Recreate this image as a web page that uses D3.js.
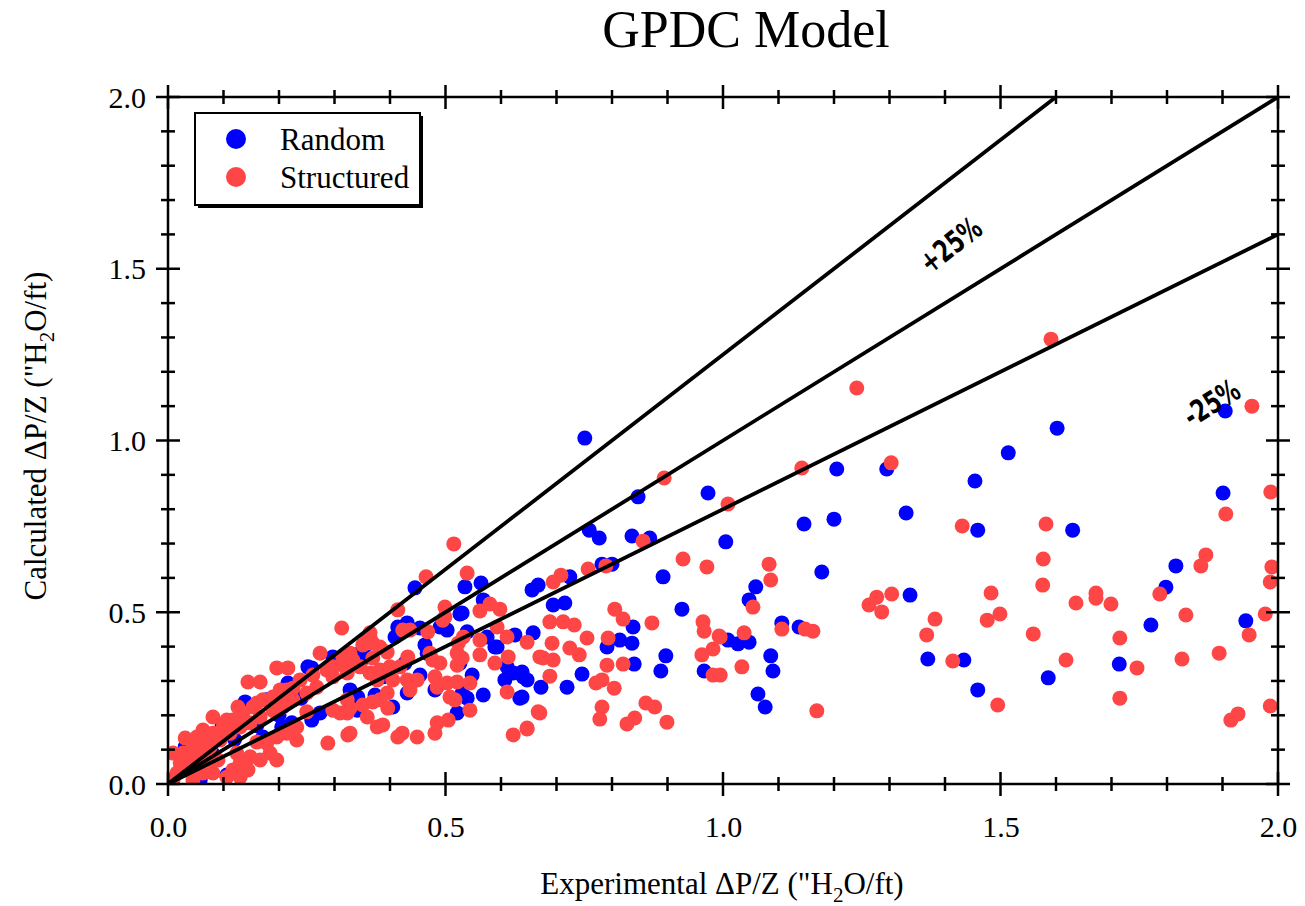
<!DOCTYPE html>
<html>
<head>
<meta charset="utf-8">
<script src="https://cdn.jsdelivr.net/npm/d3@7"></script>
<style>
  html, body { margin: 0; padding: 0; background: #ffffff; }
  svg { display: block; }
</style>
</head>
<body>
<svg id="chart" width="1305" height="906"></svg>
<script>
// ---------------- DATA ----------------
const chartTitle = "GPDC Model";
const seriesNames = ["Random", "Structured"];
const xTickLabels = ["0.0", "0.5", "1.0", "1.5", "2.0"];
const yTickLabels = ["0.0", "0.5", "1.0", "1.5", "2.0"];
const refLineSlopes = [1.25, 1.0, 0.8];
const refLineLabels = ["+25%", "-25%"];

// Random packing (blue): [experimental, calculated]
const randomData = [
  [1.905,1.086],[1.602,1.036],[1.514,0.964],[1.454,0.882],[1.901,0.847],[1.459,0.739],[1.630,0.739],
  [1.816,0.635],[1.798,0.573],[1.942,0.475],[1.771,0.463],[1.714,0.349],[1.434,0.361],[1.586,0.309],[1.459,0.274],
  [1.205,0.917],[1.295,0.917],[1.146,0.757],[1.200,0.771],[1.330,0.789],[1.005,0.705],[1.178,0.617],[1.059,0.574],
  [1.047,0.536],[1.337,0.550],[1.369,0.364],[1.106,0.469],[1.137,0.457],[1.009,0.419],[1.027,0.408],[1.047,0.413],
  [1.086,0.373],[1.090,0.329],[1.063,0.262],[1.076,0.224],
  [0.751,1.007],[0.847,0.836],[0.973,0.847],[0.759,0.739],[0.777,0.716],[0.836,0.722],[0.868,0.716],[0.892,0.603],
  [0.782,0.640],[0.800,0.640],[0.724,0.603],[0.656,0.565],[0.667,0.579],[0.694,0.521],[0.715,0.527],[0.926,0.509],
  [0.838,0.457],[0.814,0.419],[0.836,0.410],[0.791,0.399],[0.658,0.440],[0.638,0.326],[0.647,0.303],[0.672,0.282],
  [0.746,0.320],[0.840,0.349],[0.897,0.373],[0.888,0.329],[0.719,0.282],[0.966,0.329],[0.634,0.250],
  [0.445,0.571],[0.535,0.574],[0.564,0.585],[0.526,0.495],[0.568,0.536],[0.414,0.457],[0.431,0.469],[0.454,0.454],
  [0.490,0.457],[0.503,0.448],[0.409,0.428],[0.539,0.443],[0.575,0.428],[0.625,0.434],[0.589,0.399],[0.611,0.341],
  [0.526,0.352],[0.463,0.405],[0.467,0.381],[0.427,0.352],[0.359,0.370],[0.333,0.361],[0.387,0.312],[0.454,0.317],
  [0.431,0.265],[0.481,0.274],[0.548,0.317],[0.530,0.265],[0.539,0.250],[0.607,0.303],[0.622,0.323],[0.640,0.312],
  [0.638,0.253],[0.568,0.259],[0.521,0.207],[0.373,0.259],[0.405,0.224],[0.328,0.274],[0.342,0.253],[0.341,0.215],
  [0.530,0.498],[0.593,0.399],[0.259,0.338],[0.337,0.376],[0.418,0.454],
  [0.297,0.370],[0.319,0.361],[0.252,0.341],[0.216,0.294],[0.139,0.239],[0.178,0.245],[0.097,0.166],[0.034,0.114],
  [0.274,0.207],[0.259,0.186],[0.130,0.026],[0.031,0.108],[0.223,0.178],[0.205,0.166],[0.171,0.137],[0.106,0.026],
  [0.058,0.012],[0.05,0.06],[0.08,0.09],[0.12,0.13],[0.16,0.17],[0.20,0.20],[0.24,0.25]
];

// Structured packing (red): [experimental, calculated]
const structuredData = [
  [1.591,1.295],[1.953,1.100],[1.987,0.850],[1.906,0.786],[1.431,0.751],[1.582,0.757],[1.577,0.655],[1.870,0.667],
  [1.861,0.635],[1.989,0.632],[1.986,0.588],[1.576,0.579],[1.787,0.553],[1.483,0.556],[1.672,0.556],[1.672,0.541],
  [1.636,0.527],[1.699,0.524],[1.499,0.495],[1.476,0.477],[1.834,0.492],[1.977,0.495],[1.948,0.434],[1.559,0.437],
  [1.715,0.425],[1.894,0.381],[1.827,0.364],[1.618,0.361],[1.746,0.338],[1.414,0.358],[1.495,0.230],[1.715,0.250],
  [1.986,0.227],[1.928,0.204],[1.915,0.186],[1.241,1.153],
  [1.142,0.920],[1.303,0.935],[1.009,0.815],[1.083,0.640],[1.086,0.594],[1.054,0.515],[1.263,0.521],[1.277,0.544],
  [1.304,0.553],[1.286,0.501],[1.382,0.480],[1.367,0.434],[1.106,0.451],[1.148,0.451],[1.162,0.445],[0.995,0.428],
  [1.038,0.440],[1.034,0.341],[1.169,0.213],[0.995,0.317],
  [0.894,0.891],[0.856,0.707],[0.928,0.655],[0.971,0.632],[0.789,0.635],[0.757,0.626],[0.694,0.588],[0.708,0.608],
  [0.805,0.509],[0.820,0.480],[0.872,0.469],[0.688,0.472],[0.712,0.472],[0.732,0.463],[0.755,0.425],[0.793,0.425],
  [0.964,0.472],[0.966,0.445],[0.993,0.431],[0.982,0.393],[0.962,0.376],[0.647,0.413],[0.692,0.410],[0.724,0.396],
  [0.741,0.376],[0.676,0.367],[0.694,0.361],[0.688,0.314],[0.791,0.346],[0.820,0.349],[0.771,0.294],[0.782,0.303],
  [0.804,0.279],[0.982,0.317],[0.670,0.207],[0.782,0.224],[0.778,0.189],[0.861,0.236],[0.877,0.224],[0.841,0.192],
  [0.827,0.175],[0.899,0.180],[0.647,0.160],
  [0.515,0.699],[0.539,0.614],[0.465,0.603],[0.414,0.507],[0.499,0.515],[0.562,0.504],[0.580,0.524],[0.598,0.509],
  [0.313,0.454],[0.436,0.448],[0.468,0.443],[0.495,0.477],[0.364,0.428],[0.369,0.410],[0.351,0.405],[0.532,0.428],
  [0.562,0.419],[0.593,0.457],[0.611,0.428],[0.670,0.370],[0.562,0.376],[0.613,0.370],[0.589,0.352],[0.523,0.410],
  [0.521,0.381],[0.530,0.367],[0.521,0.346],[0.477,0.361],[0.490,0.352],[0.472,0.381],[0.432,0.370],[0.418,0.341],
  [0.400,0.341],[0.382,0.332],[0.395,0.384],[0.369,0.367],[0.328,0.381],[0.315,0.370],[0.346,0.341],[0.364,0.323],
  [0.377,0.303],[0.405,0.303],[0.431,0.303],[0.449,0.303],[0.436,0.274],[0.481,0.312],[0.485,0.282],[0.503,0.294],
  [0.508,0.253],[0.521,0.297],[0.544,0.294],[0.517,0.245],[0.611,0.268],[0.667,0.210],[0.544,0.215],[0.622,0.143],
  [0.647,0.163],[0.505,0.186],[0.485,0.178],[0.481,0.148],[0.449,0.137],[0.422,0.148],[0.414,0.137],[0.328,0.148],
  [0.387,0.172],[0.377,0.166],[0.359,0.195],[0.351,0.230],[0.369,0.239],[0.328,0.221],[0.323,0.245],[0.395,0.265],
  [0.382,0.245],[0.396,0.221],[0.310,0.207],[0.499,0.486],[0.423,0.448],
  [0.274,0.381],[0.315,0.346],[0.196,0.338],[0.216,0.338],[0.261,0.317],[0.286,0.332],[0.144,0.297],[0.166,0.297],
  [0.202,0.274],[0.225,0.279],[0.126,0.224],[0.160,0.236],[0.189,0.224],[0.214,0.245],[0.081,0.195],[0.106,0.186],
  [0.112,0.157],[0.133,0.186],[0.063,0.157],[0.058,0.128],[0.076,0.128],[0.045,0.099],[0.027,0.090],[0.070,0.099],
  [0.022,0.061],[0.040,0.049],[0.016,0.032],[0.058,0.070],[0.009,0.012],[0.297,0.215],[0.323,0.207],[0.250,0.210],
  [0.232,0.166],[0.214,0.148],[0.196,0.137],[0.232,0.128],[0.178,0.119],[0.160,0.122],[0.288,0.119],[0.324,0.143],
  [0.148,0.079],[0.130,0.061],[0.166,0.070],[0.117,0.041],[0.106,0.020],[0.130,0.020],[0.144,0.041],[0.124,0.090],
  [0.090,0.070],[0.081,0.032],[0.184,0.090],[0.196,0.070],[0.063,0.032],[0.045,0.012],[0.076,0.070],[0.000,0.000],
  [0.052,0.137],[0.031,0.134],[0.009,0.090],
  [0.359,0.419],[0.364,0.440],[0.382,0.399],[0.333,0.361],[0.297,0.312],[0.268,0.282],[0.250,0.265],[0.225,0.245],
  [0.207,0.224],[0.189,0.214],[0.166,0.195],[0.148,0.178],[0.130,0.166],[0.112,0.148],[0.094,0.128],[0.076,0.108],
  [0.058,0.090],[0.040,0.070],[0.297,0.341],[0.323,0.323],[0.238,0.303],[0.214,0.274],[0.189,0.253],[0.171,0.245],
  [0.153,0.224],[0.135,0.207],[0.117,0.186],[0.099,0.166],[0.081,0.148],[0.063,0.128],[0.045,0.108],[0.027,0.079]
];

// ---------------- CHART ----------------
const svg = d3.select("#chart");
const plot = { left: 168, right: 1278, top: 97, bottom: 784 };

const x = d3.scaleLinear().domain([0, 2]).range([plot.left, plot.right]);
const y = d3.scaleLinear().domain([0, 2]).range([plot.bottom, plot.top]);

const serif = "'Liberation Serif', 'Times New Roman', serif";
const blue = "#0000ff";
const red = "#ff4646";

// Title
svg.append("text")
  .attr("x", 746).attr("y", 47)
  .attr("text-anchor", "middle")
  .style("font-family", serif).style("font-size", "52px")
  .text(chartTitle);

// Clip for data
svg.append("defs").append("clipPath").attr("id", "clip")
  .append("rect").attr("x", plot.left).attr("y", plot.top)
  .attr("width", plot.right - plot.left).attr("height", plot.bottom - plot.top);

// Points
const pts = svg.append("g").attr("clip-path", "url(#clip)");
pts.selectAll("circle.random").data(randomData).join("circle")
  .attr("class", "random")
  .attr("cx", d => x(d[0])).attr("cy", d => y(d[1])).attr("r", 7.5)
  .attr("fill", blue);
pts.selectAll("circle.structured").data(structuredData).join("circle")
  .attr("class", "structured")
  .attr("cx", d => x(d[0])).attr("cy", d => y(d[1])).attr("r", 7.5)
  .attr("fill", red);

// Reference lines
const lineGen = d3.line().x(d => x(d[0])).y(d => y(d[1]));
refLineSlopes.forEach(s => {
  const xEnd = Math.min(2, 2 / s);
  pts.append("path")
    .attr("d", lineGen([[0, 0], [xEnd, xEnd * s]]))
    .attr("fill", "none").attr("stroke", "#000").attr("stroke-width", 3.8);
});

// Line labels
const annoFont = "'DejaVu Sans Condensed', 'DejaVu Sans', sans-serif";
svg.append("text")
  .attr("transform", `translate(${x(1.412)},${y(1.565)}) rotate(-38) scale(0.85,1.1)`)
  .attr("text-anchor", "middle").attr("dominant-baseline", "middle")
  .style("font-family", annoFont).style("font-weight", "bold").style("font-size", "28px")
  .text(refLineLabels[0]);
svg.append("text")
  .attr("transform", `translate(${x(1.882)},${y(1.105)}) rotate(-32) scale(0.85,1.1)`)
  .attr("text-anchor", "middle").attr("dominant-baseline", "middle")
  .style("font-family", annoFont).style("font-weight", "bold").style("font-size", "28px")
  .text(refLineLabels[1]);

// Axes frame
const axisG = svg.append("g");
axisG.append("rect")
  .attr("x", plot.left).attr("y", plot.top)
  .attr("width", plot.right - plot.left).attr("height", plot.bottom - plot.top)
  .attr("fill", "none").attr("stroke", "#000").attr("stroke-width", 2.5);

const tickVals = d3.range(0, 21).map(i => i / 10);
const isMajor = v => Math.abs(v * 2 - Math.round(v * 2)) < 1e-6;

// Crossing ticks on all four sides
tickVals.forEach(v => {
  const a = isMajor(v) ? 12 : 7;
  [plot.bottom, plot.top].forEach(yy => {
    axisG.append("line")
      .attr("x1", x(v)).attr("x2", x(v)).attr("y1", yy - a).attr("y2", yy + a)
      .attr("stroke", "#000").attr("stroke-width", 2.5);
  });
  [plot.left, plot.right].forEach(xx => {
    axisG.append("line")
      .attr("x1", xx - a).attr("x2", xx + a).attr("y1", y(v)).attr("y2", y(v))
      .attr("stroke", "#000").attr("stroke-width", 2.5);
  });
});

// Tick labels via d3 axes
const majorVals = [0, 0.5, 1.0, 1.5, 2.0];
const xAxis = d3.axisBottom(x).tickValues(majorVals).tickSize(0)
  .tickFormat((d, i) => xTickLabels[i]);
const xg = svg.append("g").attr("transform", `translate(0,${plot.bottom})`).call(xAxis);
xg.select(".domain").remove();
xg.selectAll("text").attr("dy", 0).attr("y", 53)
  .style("font-family", serif).style("font-size", "30px").attr("fill", "#000");

const yAxis = d3.axisLeft(y).tickValues(majorVals).tickSize(0)
  .tickFormat((d, i) => yTickLabels[i]);
const yg = svg.append("g").attr("transform", `translate(${plot.left},0)`).call(yAxis);
yg.select(".domain").remove();
yg.selectAll("text").attr("x", -22).attr("dy", "0.34em")
  .style("font-family", serif).style("font-size", "30px").attr("fill", "#000");

// Axis titles
const xTitle = svg.append("text")
  .attr("x", 722).attr("y", 894)
  .attr("text-anchor", "middle")
  .style("font-family", serif).style("font-size", "31px");
xTitle.append("tspan").text("Experimental ΔP/Z (\"H");
xTitle.append("tspan").attr("dy", 8).style("font-size", "21px").text("2");
xTitle.append("tspan").attr("dy", -8).text("O/ft)");

const yTitle = svg.append("text")
  .attr("transform", `translate(46,436) rotate(-90)`)
  .attr("text-anchor", "middle")
  .style("font-family", serif).style("font-size", "31px");
yTitle.append("tspan").text("Calculated ΔP/Z (\"H");
yTitle.append("tspan").attr("dy", 8).style("font-size", "21px").text("2");
yTitle.append("tspan").attr("dy", -8).text("O/ft)");

// Legend
const leg = svg.append("g");
leg.append("rect").attr("x", 198).attr("y", 116).attr("width", 225).attr("height", 92)
  .attr("fill", "#000");
leg.append("rect").attr("x", 195).attr("y", 113).attr("width", 225).attr("height", 92)
  .attr("fill", "#fff").attr("stroke", "#000").attr("stroke-width", 2);
[blue, red].forEach((c, i) => {
  leg.append("circle").attr("cx", 236).attr("cy", 139 + i * 38).attr("r", 10).attr("fill", c);
  leg.append("text").attr("x", 280).attr("y", 139 + i * 38).attr("dy", "0.35em")
    .style("font-family", serif).style("font-size", "31px")
    .text(seriesNames[i]);
});
</script>
</body>
</html>
